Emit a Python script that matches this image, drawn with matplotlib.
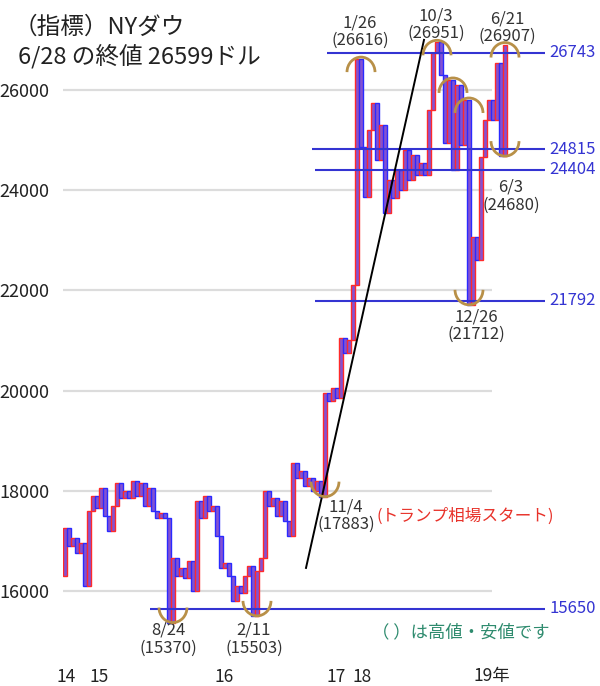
"""NYダウ 新値足チャート (2014-2019/6)."""
import matplotlib
matplotlib.use("Agg")
import matplotlib.pyplot as plt
from matplotlib.patches import Arc

plt.rcParams["font.family"] = ["Noto Sans CJK JP", "DejaVu Sans"]

# bar i spans levels[i] -> levels[i+1]; up = red edge, down = blue edge
levels = [
    16300, 17250, 16900, 17050, 16750, 16950, 16100, 17600, 17900, 17650,
    18050, 17500, 17200, 17700, 18150, 17850, 18000, 17850, 18200, 17900,
    18150, 17700, 18050, 17600, 17450, 17550, 17450, 15370, 16650, 16300,
    16450, 16250, 16600, 16000, 17800, 17450, 17900, 17600, 17700, 17100,
    16450, 16550, 16300, 15800, 16100, 15950, 16300, 16500, 15503, 16400,
    16650, 18000, 17700, 17850, 17500, 17800, 17400, 17100, 18550, 18250,
    18400, 18100, 18250, 18000, 18200, 17883, 19950, 19800, 20050, 19850,
    21050, 20750, 21000, 22100, 26616, 24870, 23870, 25200, 25740, 24600,
    25300, 23550, 24200, 23850, 24400, 24000, 24800, 24200, 24700, 24300,
    24550, 24300, 25600, 26743, 26951, 26300, 24950, 26200, 24400, 26100,
    24900, 25800, 21712, 23070, 22600, 24670, 25400, 25800, 25400, 26530,
    24680, 26907,
]

# support / resistance lines: level and starting bar
hline_levels = [26743, 24815, 24404, 21792, 15650]
hline_start = [65.5, 61.75, 62.5, 62.5, 21.25]

grid_levels = [16000, 18000, 20000, 22000, 24000, 26000]

year_pos = [0.25, 8.5, 39.75, 67.75, 74.25, 106.75]
year_labels = ["14", "15", "16", "17", "18", "19年"]

# marked highs / lows (bar index)
high_bars = [74, 93, 97, 101, 110]
low_bars = [27, 48, 65, 101, 110]

# high / low captions and where they sit
captions = ["1/26\n(26616)", "10/3\n(26951)", "6/21\n(26907)", "8/24\n(15370)",
            "2/11\n(15503)", "12/26\n(21712)", "6/3\n(24680)", "11/4\n(17883)"]
caption_x = [73.75, 92.75, 110.5, 25.75, 47.25, 102.75, 111.5, 70.25]
caption_y = [27170, 27310, 27240, 15040, 15040, 21300, 23880, 17500]

trend_x = [60.25, 89.75]
trend_y = [16460, 27000]

BLUE = "#3434d2"
ARC = "#b89048"
GRID = "#dcdcdc"

fig = plt.figure(figsize=(6.0, 6.86), dpi=100)
ax = fig.add_axes([63 / 600, 31 / 686, 482 / 600, 655 / 686])
ax.set_xlim(-0.5, 120)
ax.set_ylim(14722, 27796)
for s in ax.spines.values():
    s.set_visible(False)

ax.hlines(grid_levels, -0.5, 106.75, color=GRID, lw=1.6, zorder=0)

for i in range(len(levels) - 1):
    a, b = levels[i], levels[i + 1]
    up = b > a
    ax.bar(i, abs(b - a), bottom=min(a, b), width=0.9,
           color="#8352d2", edgecolor="#ff2a2a" if up else "#2a2aff",
           linewidth=1.0, zorder=2)

ax.plot(trend_x, trend_y, color="black", lw=1.4, zorder=4)

for lv, x0 in zip(hline_levels, hline_start):
    ax.hlines(lv, x0, 120, color=BLUE, lw=1.5, zorder=3)
    ax.text(121.2, lv, str(lv), color=BLUE, fontsize=12, va="center",
            ha="left", clip_on=False)

arc_w, arc_h = 7.0, 600
for bi in high_bars:
    top = max(levels[bi], levels[bi + 1])
    ax.add_patch(Arc((bi, top - arc_h / 2 + 40), arc_w, arc_h, theta1=15,
                     theta2=165, color=ARC, lw=2, zorder=5))
for bi in low_bars:
    bot = min(levels[bi], levels[bi + 1])
    ax.add_patch(Arc((bi, bot + arc_h / 2), arc_w, arc_h, theta1=195,
                     theta2=345, color=ARC, lw=2, zorder=5))

for txt, x, y in zip(captions, caption_x, caption_y):
    ax.text(x, y, txt, ha="center", va="center", fontsize=12,
            color="#333333", linespacing=1.05)
ax.text(78.0, 17500, "(トランプ相場スタート)", ha="left", va="center",
        fontsize=12, color="#e8322a")
ax.text(76.75, 15170, "（ ）は高値・安値です", ha="left", va="center",
        fontsize=12.5, color="#2e8b6e")

ax.set_yticks(grid_levels)
ax.set_yticklabels([str(v) for v in grid_levels], fontsize=13, color="#222222")
ax.set_xticks(year_pos)
ax.set_xticklabels(year_labels, fontsize=12.5, color="#222222")
ax.tick_params(axis="both", length=0)
ax.tick_params(axis="y", pad=10)
ax.tick_params(axis="x", pad=9)

fig.text(14 / 600, 1 - 27 / 686, "（指標）NYダウ", fontsize=17, va="center",
         color="#222222")
fig.text(18 / 600, 1 - 56 / 686, "6/28 の終値 26599ドル", fontsize=17,
         va="center", color="#222222")

fig.savefig("out.png", dpi=100)
